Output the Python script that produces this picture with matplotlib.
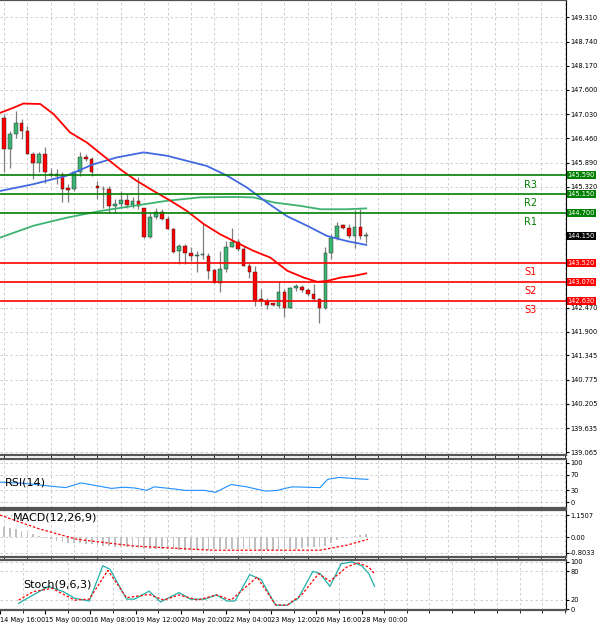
import matplotlib

matplotlib.use("Agg")
import matplotlib.pyplot as plt
import matplotlib.transforms as mtransforms
import numpy as np

# OHLC candles
opens = [146.95, 146.21, 146.56, 146.83, 146.64, 146.09, 145.89, 146.09, 145.63, 145.58,
         145.60, 145.29, 145.26, 145.66, 146.03, 145.97, 145.34, 145.26, 145.26, 144.87,
         144.91, 145.00, 144.89, 144.99, 144.81, 144.14, 144.61, 144.73, 144.57, 144.32,
         143.81, 143.93, 143.77, 143.69, 143.71, 143.69, 143.35, 143.06, 143.38, 143.90,
         144.02, 143.86, 143.45, 143.31, 142.67, 142.63, 142.57, 142.51, 142.85, 142.47,
         142.93, 142.96, 142.88, 142.79, 142.67, 142.46, 143.77, 144.11, 144.42, 144.34,
         144.16, 144.37, 144.16]
highs = [147.03, 146.64, 147.11, 146.91, 146.76, 146.13, 146.13, 146.25, 145.77, 145.73,
         145.66, 145.38, 145.69, 146.13, 146.09, 146.01, 145.46, 145.34, 145.34, 145.03,
         145.22, 145.14, 145.07, 145.54, 144.83, 144.71, 144.83, 144.79, 144.63, 144.36,
         143.97, 143.97, 143.89, 143.81, 144.44, 143.75, 143.38, 143.81, 144.04, 144.36,
         144.08, 143.93, 143.53, 143.45, 142.90, 142.71, 142.59, 143.10, 142.90, 142.96,
         143.02, 143.01, 142.94, 143.04, 142.71, 143.89, 144.20, 144.48, 144.45, 144.44,
         144.77, 144.79, 144.26]
lows = [145.66, 145.77, 146.48, 146.44, 146.09, 145.50, 145.66, 145.42, 145.54, 145.38,
        144.95, 144.95, 145.22, 145.58, 145.93, 145.58, 145.03, 144.83, 144.71, 144.71,
        144.83, 144.83, 144.83, 144.79, 144.12, 144.12, 144.56, 144.53, 144.32, 143.77,
        143.49, 143.49, 143.57, 143.30, 143.61, 143.14, 143.09, 142.83, 143.30, 143.89,
        143.81, 143.45, 143.18, 142.51, 142.51, 142.43, 142.51, 142.47, 142.24, 142.46,
        142.87, 142.85, 142.75, 142.63, 142.12, 142.43, 143.61, 144.06, 144.32, 144.12,
        143.87, 144.08, 144.00]
closes = [146.21, 146.56, 146.83, 146.64, 146.09, 145.89, 146.09, 145.66, 145.60, 145.62,
          145.26, 145.25, 145.66, 146.03, 145.97, 145.66, 145.28, 145.26, 144.87, 144.92,
          145.00, 144.89, 144.99, 144.87, 144.14, 144.61, 144.73, 144.57, 144.32, 143.79,
          143.93, 143.77, 143.69, 143.70, 143.71, 143.34, 143.06, 143.38, 143.90, 144.02,
          143.86, 143.45, 143.30, 142.65, 142.63, 142.54, 142.54, 142.85, 142.47, 142.93,
          142.98, 142.88, 142.79, 142.67, 142.46, 143.77, 144.11, 144.40, 144.34, 144.16,
          144.37, 144.16, 144.16]

# moving averages (index, value)
ma_red_x = [-0.7, 1.6, 3.3, 6.2, 8.5, 11.3, 14.2, 17, 19.9, 22.7, 25.6, 28.5, 31.3, 34.2,
            37, 39.9, 42.7, 45.6, 48.5, 51.3, 53.6, 55.3, 57.6, 59.9, 62]
ma_red = [147.06, 147.18, 147.28, 147.27, 147.03, 146.60, 146.36, 146.05, 145.73, 145.46,
          145.22, 144.99, 144.75, 144.44, 144.20, 144.00, 143.81, 143.65, 143.34, 143.18,
          143.08, 143.10, 143.18, 143.22, 143.28]
ma_blue_x = [-0.7, 5, 10.7, 15.3, 19.3, 23.9, 27.9, 31.3, 34.7, 38.2, 41.6, 45, 48.4,
             51.9, 55.3, 58.7, 62]
ma_blue = [145.22, 145.38, 145.58, 145.85, 146.01, 146.13, 146.05, 145.93, 145.81, 145.58,
           145.30, 144.95, 144.63, 144.40, 144.16, 144.04, 143.95]
ma_green_x = [-0.7, 5, 10.7, 16.5, 22.2, 27.9, 33.6, 39.3, 42.7, 46.2, 50.7, 54.2, 58.7, 62]
ma_green = [144.12, 144.40, 144.59, 144.75, 144.87, 144.99, 145.07, 145.08, 145.07, 144.95,
            144.87, 144.79, 144.79, 144.81]

levels = {"R3": 145.590, "R2": 145.150, "R1": 144.700,
          "S1": 143.520, "S2": 143.070, "S3": 142.630}
last_price = 144.150

price_ticks = [149.310, 148.740, 148.170, 147.600, 147.030, 146.460, 145.890, 145.320,
               142.470, 141.900, 141.345, 140.775, 140.205, 139.635, 139.065]

rsi_x = [-0.7, 3.3, 7.2, 10.5, 13.2, 15.8, 18.4, 20.4, 22.4, 24.4, 25.7, 28.3, 31, 34.3,
         36.2, 38.9, 41.5, 44.8, 46.8, 48.1, 49.4, 54.1, 55.4, 57.4, 60, 62.3]
rsi = [51, 48, 42, 37, 49, 42, 35, 38, 36, 30, 39, 35, 30, 30, 25, 45, 39, 28, 30, 35, 39,
       37, 58, 63, 60, 58]

macd_hist = [0.55, 0.5, 0.45, 0.35, 0.25, 0.15, 0.05, -0.05, -0.1, -0.2, -0.25,
             -0.3, -0.3, -0.3, -0.32, -0.35, -0.4, -0.42, -0.45, -0.48, -0.5,
             -0.52, -0.55, -0.55, -0.58, -0.6, -0.6, -0.62, -0.62, -0.62, -0.63,
             -0.63, -0.64, -0.64, -0.63, -0.63, -0.62, -0.62, -0.6, -0.58, -0.58,
             -0.6, -0.6, -0.62, -0.63, -0.64, -0.64, -0.63, -0.62, -0.6, -0.58,
             -0.55, -0.52, -0.5, -0.48, -0.45, -0.3, -0.15, -0.05, 0.0, 0.05, 0.1, 0.15]
macd_sig_x = [-0.7, 5.9, 12.5, 22.4, 35.6, 54.1, 58.7, 62.3]
macd_sig = [1.15, 0.45, -0.1, -0.45, -0.66, -0.66, -0.4, -0.1]

stoch_x = [-0.7, 1.9, 4.6, 7.2, 9.2, 11.8, 14.2, 15.5, 18.4, 19.8, 22.4, 24.4, 27.7, 29.7,
           32.3, 34.3, 36.2, 37.6, 40.2, 42.2, 44.8, 46.8, 48.8, 51.4, 52.7, 54.4, 56.4,
           58.3, 60, 61.3, 62.3]
stoch_k = [12, 30, 48, 37, 23, 17, 92, 84, 21, 21, 38, 15, 35, 21, 21, 30, 17, 17, 73, 63,
           8, 8, 23, 80, 75, 48, 96, 100, 92, 75, 48]
stoch_d_x = [-0.7, 1.9, 5.2, 9.2, 11.8, 15.1, 18.4, 22.4, 25, 27.7, 31, 34.3, 36.9, 41.5,
             44.8, 46.8, 49.4, 52.4, 54.4, 57.4, 59.3, 61.3, 62.3]
stoch_d = [19, 37, 44, 19, 21, 82, 24, 31, 19, 30, 19, 30, 19, 68, 9, 8, 30, 75, 59, 89,
           98, 89, 75]

xtick_pos = [-4, 4, 12, 20, 28, 36, 44, 52, 60]
xtick_labels = ["14 May 16:00", "15 May 00:00", "16 May 08:00", "19 May 12:00",
                "20 May 20:00", "22 May 04:00", "23 May 12:00", "26 May 16:00",
                "28 May 00:00"]

XMIN, XMAX = -0.69, 96.2
GRID = dict(color="#c8c8c8", linestyle=(0, (3, 3)), linewidth=0.6)
FS = 4.8

fig = plt.figure(figsize=(6, 6.26), dpi=100)
H = 626.0


def panel(top, bottom):
    return fig.add_axes([0, (H - bottom) / H, 566 / 600, (bottom - top) / H])


ax = panel(0, 455)
ax_rsi = panel(459, 508)
ax_macd = panel(510, 557)
ax_st = panel(560, 610)

for a in (ax, ax_rsi, ax_macd, ax_st):
    a.set_xlim(XMIN, XMAX)
    a.yaxis.tick_right()
    a.tick_params(axis="y", labelsize=FS, length=2, pad=1)
    a.tick_params(axis="x", length=0)
    a.set_xticks(np.arange(0, 97, 4), minor=True)
    a.grid(True, which="minor", axis="x", **GRID)
    a.grid(True, which="major", axis="y", **GRID)
    a.set_xticks([])
    for s in ("top", "bottom"):
        a.spines[s].set_linewidth(1.6)
        a.spines[s].set_color("#555555")
    a.spines["left"].set_visible(False)
    a.spines["right"].set_linewidth(0.8)

# main price panel
x = np.arange(len(closes))
o = np.array(opens)
c = np.array(closes)
up = c >= o
ax.vlines(x, lows, highs, color="#7f7f7f", linewidth=0.9, zorder=2)
body_lo = np.minimum(o, c)
body_h = np.maximum(np.abs(c - o), 0.015)
ax.bar(x[up], body_h[up], bottom=body_lo[up], width=0.62, color="#3cb371",
       edgecolor="#1f1f1f", linewidth=0.3, zorder=3)
ax.bar(x[~up], body_h[~up], bottom=body_lo[~up], width=0.62, color="#ff0000",
       edgecolor="#1f1f1f", linewidth=0.3, zorder=3)

ax.plot(ma_green_x, ma_green, color="#3cb371", linewidth=1.3, zorder=4)
ax.plot(ma_blue_x, ma_blue, color="#4169e1", linewidth=1.3, zorder=4)
ax.plot(ma_red_x, ma_red, color="#ff0000", linewidth=1.3, zorder=4)

trans = mtransforms.blended_transform_factory(ax.transAxes, ax.transData)
for name, val in levels.items():
    col = "#008000" if name.startswith("R") else "#ff0000"
    ax.axhline(val, color=col, linewidth=1.2, zorder=5)
    ax.text(89.0, val - 0.1, name, color=col, fontsize=7, va="top", ha="left")
    ax.text(1.003, val, f"{val:.3f}", transform=trans, fontsize=FS, color="white",
            va="center", ha="left", clip_on=False,
            bbox=dict(boxstyle="square,pad=0.15", fc=col, ec="none"))
ax.text(1.003, last_price, f"{last_price:.3f}", transform=trans, fontsize=FS,
        color="white", va="center", ha="left", clip_on=False,
        bbox=dict(boxstyle="square,pad=0.15", fc="black", ec="none"))

ax.set_ylim(139.0, 149.72)
ax.set_yticks(price_ticks)
ax.set_yticklabels([f"{t:.3f}" for t in price_ticks])

# RSI
ax_rsi.plot(rsi_x, rsi, color="#1e90ff", linewidth=0.8)
ax_rsi.set_ylim(-15, 110)
ax_rsi.set_yticks([0, 30, 70, 100])
ax_rsi.text(0.2, 50, "RSI(14)", fontsize=8, va="center")

# MACD
ax_macd.bar(x, macd_hist, width=0.3, color="#c0c0c0")
ax_macd.plot(macd_sig_x, macd_sig, color="#ff0000", linestyle=(0, (2, 1.5)), linewidth=0.9)
ax_macd.set_ylim(-1.01, 1.41)
ax_macd.set_yticks([-0.8033, 0.0, 1.1507])
ax_macd.set_yticklabels(["-0.8033", "0.00", "1.1507"])
ax_macd.text(1.5, 1.0, "MACD(12,26,9)", fontsize=8, va="center")

# Stochastic
ax_st.plot(stoch_x, stoch_k, color="#20b2aa", linewidth=0.9)
ax_st.plot(stoch_d_x, stoch_d, color="#ff0000", linestyle=(0, (2, 1.5)), linewidth=0.9)
ax_st.set_yticks([0, 20, 80, 100])
ax_st.set_ylim(-2, 104)
ax_st.text(0.2, 52, "Stoch(9,6,3)", fontsize=8, va="center")

ax_st.set_xticks(xtick_pos)
ax_st.set_xticklabels(xtick_labels, fontsize=FS, ha="left")
ax_st.tick_params(axis="x", length=3, pad=2)

fig.savefig("out.png", dpi=100)
